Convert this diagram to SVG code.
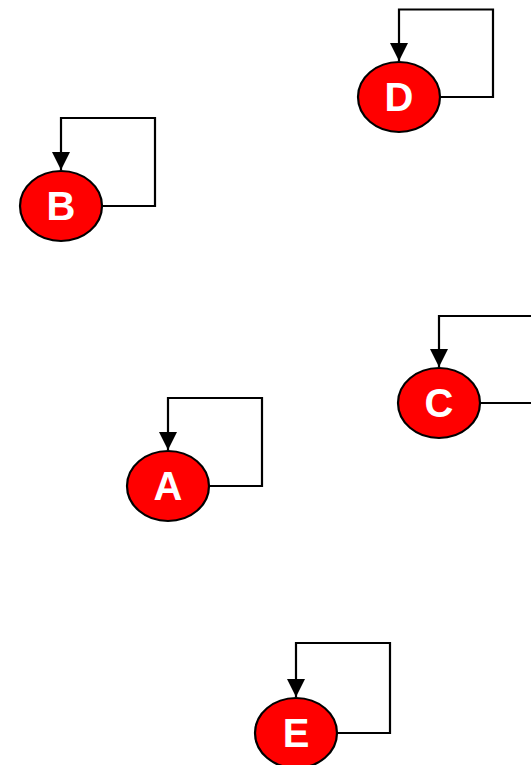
<svg xmlns="http://www.w3.org/2000/svg" width="531" height="765" viewBox="0 0 531 765">
<style>
.n ellipse{fill:#ff0000;stroke:#000;stroke-width:2.2}
.n text{fill:#fff;font-family:"Liberation Sans",Arial,sans-serif;font-weight:bold;font-size:40px;text-anchor:middle}
.e path{fill:none;stroke:#000;stroke-width:2.2;marker-end:url(#ah)}
</style>
<defs>
<marker id="ah" viewBox="0 0 16 16" refX="16" refY="8" markerWidth="18" markerHeight="18" markerUnits="userSpaceOnUse" orient="auto">
<path d="M0,0 L16,8 L0,16 Z" fill="#000"/>
</marker>
</defs>
<g id="connectors" class="e">
<path d="M440,97 H493 V9.5 H399 V61"/>
<path d="M102,206 H155 V118 H61 V170"/>
<path d="M480,403 H534 V316 H439 V367"/>
<path d="M209,486 H262 V398 H168 V450"/>
<path d="M337,733 H390 V643 H296 V697"/>
</g>
<g id="D" class="n"><ellipse cx="399" cy="97" rx="41" ry="35"/><text x="399" y="111">D</text></g>
<g id="B" class="n"><ellipse cx="61" cy="206" rx="41" ry="35"/><text x="61" y="220">B</text></g>
<g id="C" class="n"><ellipse cx="439" cy="403" rx="41" ry="35"/><text x="439" y="417">C</text></g>
<g id="A" class="n"><ellipse cx="168" cy="486" rx="41" ry="35"/><text x="168" y="500">A</text></g>
<g id="E" class="n"><ellipse cx="296" cy="733" rx="41" ry="35"/><text x="296" y="747">E</text></g>
</svg>
